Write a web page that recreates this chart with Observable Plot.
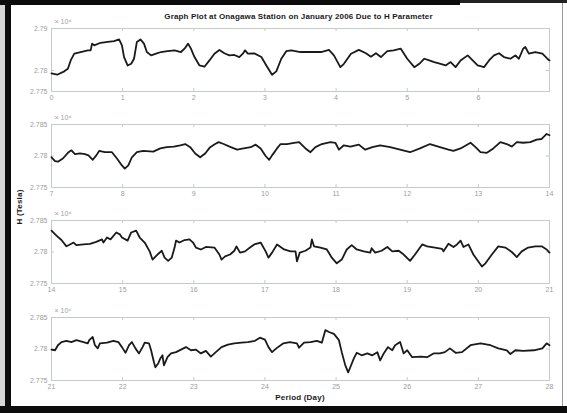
<!DOCTYPE html>
<html>
<head>
<meta charset="utf-8">
<script src="https://cdn.jsdelivr.net/npm/d3@7"></script>
<script src="https://cdn.jsdelivr.net/npm/@observablehq/plot@0.6"></script>
<style>
  html, body { margin: 0; padding: 0; background: #fff; }
  #page { position: relative; width: 567px; height: 413px; background: #fff; overflow: hidden;
          font-family: "Liberation Sans", Arial, sans-serif; }
  .edge { position: absolute; }
  .panel { position: absolute; left: 0; }
  #title { position: absolute; left: 0; width: 597px; top: 12px; text-align: center;
           font-size: 8px; font-weight: bold; color: #1a1a1a; letter-spacing: 0.15px; }
  #xlabel { position: absolute; left: 0; width: 600px; top: 393px; text-align: center;
            font-size: 8px; font-weight: bold; color: #1a1a1a; letter-spacing: 0.2px; }
  #ylabel { position: absolute; left: 19px; top: 207px; transform: translate(-50%, -50%) rotate(-90deg);
            font-size: 8px; font-weight: bold; color: #1a1a1a; white-space: nowrap; letter-spacing: 0.2px; }
</style>
</head>
<body>
<div id="page">
  <div class="edge" style="left:0;top:0;width:5px;height:413px;background:#d6d6d6"></div>
  <div class="edge" style="left:5px;top:0;width:6px;height:413px;background:#0c0c0c"></div>
  <div class="edge" style="left:0;top:0;width:460px;height:5px;background:#0c0c0c"></div>
  <div class="edge" style="left:460px;top:0;width:107px;height:3px;background:#222"></div>
  <div class="edge" style="left:0;top:406px;width:567px;height:7px;background:#0c0c0c"></div>
  <div class="edge" style="left:562px;top:3px;width:1px;height:403px;background:#9a9a9a"></div>
  <div id="title">Graph Plot at Onagawa Station on January 2006 Due to H Parameter</div>
  <div id="ylabel">H (Tesla)</div>
  <div id="xlabel">Period (Day)</div>
</div>
<script>
// H component readings, [day, H ×10^4], one array per week of January 2006
const week1 = [
  [0, 2.7793], [0.08, 2.7790], [0.18, 2.7798], [0.23, 2.7804], [0.27, 2.7824], [0.32, 2.7840],
  [0.41, 2.7844], [0.51, 2.7848], [0.55, 2.7848], [0.57, 2.7864], [0.6, 2.7860], [0.69, 2.7866],
  [0.79, 2.7868], [0.88, 2.7870], [0.95, 2.7874], [0.99, 2.7860], [1.02, 2.7832], [1.07, 2.7812],
  [1.12, 2.7816], [1.16, 2.7828], [1.2, 2.7868], [1.25, 2.7874], [1.3, 2.7864], [1.34, 2.7844],
  [1.4, 2.7836], [1.47, 2.7840], [1.54, 2.7844], [1.63, 2.7846], [1.73, 2.7848], [1.82, 2.7844],
  [1.87, 2.7852], [1.92, 2.7864], [1.96, 2.7852], [2.01, 2.7832], [2.08, 2.7812], [2.15, 2.7809],
  [2.22, 2.7824], [2.29, 2.7840], [2.36, 2.7849], [2.43, 2.7841], [2.5, 2.7836], [2.57, 2.7837],
  [2.64, 2.7832], [2.69, 2.7840], [2.72, 2.7848], [2.76, 2.7840], [2.85, 2.7841], [2.95, 2.7832],
  [3.02, 2.7812], [3.1, 2.7790], [3.16, 2.7798], [3.23, 2.7828], [3.3, 2.7846], [3.37, 2.7848],
  [3.5, 2.7844], [3.64, 2.7844], [3.79, 2.7844], [3.9, 2.7849], [3.97, 2.7836], [4.06, 2.7808],
  [4.11, 2.7816], [4.21, 2.7840], [4.32, 2.7849], [4.42, 2.7841], [4.49, 2.7833], [4.56, 2.7841],
  [4.63, 2.7832], [4.72, 2.7846], [4.81, 2.7848], [4.91, 2.7852], [5.0, 2.7828], [5.1, 2.7808],
  [5.17, 2.7816], [5.24, 2.7828], [5.31, 2.7824], [5.38, 2.7820], [5.47, 2.7816], [5.54, 2.7812],
  [5.61, 2.7820], [5.68, 2.7808], [5.75, 2.7824], [5.85, 2.7836], [5.92, 2.7824], [5.99, 2.7812],
  [6.08, 2.7808], [6.15, 2.7824], [6.22, 2.7836], [6.29, 2.7841], [6.36, 2.7832], [6.45, 2.7828],
  [6.52, 2.7836], [6.57, 2.7828], [6.63, 2.7852], [6.66, 2.7856], [6.71, 2.7840], [6.8, 2.7844],
  [6.9, 2.7840], [6.97, 2.7828], [7.0, 2.7824]
];
const week2 = [
  [7.0, 2.7798], [7.05, 2.7792], [7.09, 2.7791], [7.16, 2.7796], [7.24, 2.7806], [7.28, 2.7809],
  [7.33, 2.7803], [7.4, 2.7804], [7.47, 2.7803], [7.52, 2.7801], [7.58, 2.7794], [7.63, 2.7801],
  [7.67, 2.7808], [7.75, 2.7806], [7.85, 2.7806], [7.92, 2.7796], [7.99, 2.7785], [8.03, 2.7780],
  [8.08, 2.7785], [8.13, 2.7798], [8.2, 2.7806], [8.29, 2.7808], [8.43, 2.7807], [8.53, 2.7812],
  [8.62, 2.7814], [8.72, 2.7815], [8.81, 2.7817], [8.88, 2.7819], [8.95, 2.7814], [9.02, 2.7804],
  [9.09, 2.7798], [9.16, 2.7804], [9.23, 2.7814], [9.3, 2.7819], [9.35, 2.7822], [9.42, 2.7819],
  [9.52, 2.7814], [9.61, 2.7810], [9.7, 2.7812], [9.8, 2.7814], [9.87, 2.7818], [9.94, 2.7812],
  [10.01, 2.7800], [10.06, 2.7794], [10.1, 2.7801], [10.17, 2.7812], [10.22, 2.7819], [10.31, 2.7819],
  [10.41, 2.7821], [10.48, 2.7822], [10.57, 2.7812], [10.64, 2.7806], [10.71, 2.7814], [10.8, 2.7819],
  [10.92, 2.7822], [10.99, 2.7821], [11.04, 2.7810], [11.11, 2.7817], [11.2, 2.7815], [11.32, 2.7818],
  [11.41, 2.7810], [11.51, 2.7814], [11.62, 2.7817], [11.76, 2.7814], [11.9, 2.7810], [12.04, 2.7806],
  [12.18, 2.7812], [12.32, 2.7819], [12.46, 2.7814], [12.58, 2.7810], [12.65, 2.7808], [12.75, 2.7812],
  [12.89, 2.7821], [12.96, 2.7814], [13.03, 2.7806], [13.12, 2.7805], [13.21, 2.7812], [13.31, 2.7822],
  [13.4, 2.7819], [13.47, 2.7815], [13.54, 2.7822], [13.63, 2.7821], [13.73, 2.7822], [13.82, 2.7826],
  [13.89, 2.7827], [13.96, 2.7835], [14.0, 2.7833]
];
const week3 = [
  [14.0, 2.7834], [14.07, 2.7826], [14.14, 2.7819], [14.21, 2.7809], [14.26, 2.7812], [14.31, 2.7815],
  [14.35, 2.7811], [14.45, 2.7812], [14.54, 2.7813], [14.63, 2.7816], [14.71, 2.7820], [14.73, 2.7815],
  [14.78, 2.7823], [14.83, 2.7820], [14.91, 2.7831], [14.96, 2.7828], [14.99, 2.7823], [15.07, 2.7818],
  [15.12, 2.7831], [15.19, 2.7834], [15.24, 2.7823], [15.31, 2.7815], [15.38, 2.7801], [15.42, 2.7788],
  [15.49, 2.7796], [15.55, 2.7802], [15.59, 2.7791], [15.64, 2.7786], [15.69, 2.7791], [15.73, 2.7807],
  [15.75, 2.7818], [15.8, 2.7815], [15.87, 2.7819], [15.94, 2.7820], [15.99, 2.7815], [16.03, 2.7807],
  [16.1, 2.7804], [16.17, 2.7808], [16.29, 2.7807], [16.36, 2.7796], [16.39, 2.7788], [16.44, 2.7793],
  [16.51, 2.7796], [16.57, 2.7802], [16.6, 2.7809], [16.65, 2.7799], [16.72, 2.7801], [16.79, 2.7807],
  [16.85, 2.7812], [16.94, 2.7815], [17.01, 2.7801], [17.05, 2.7791], [17.1, 2.7799], [17.17, 2.7812],
  [17.27, 2.7804], [17.36, 2.7801], [17.43, 2.7801], [17.45, 2.7785], [17.49, 2.7799], [17.57, 2.7802],
  [17.64, 2.7807], [17.66, 2.7820], [17.69, 2.7809], [17.78, 2.7807], [17.87, 2.7804], [17.94, 2.7791],
  [18.01, 2.7782], [18.08, 2.7788], [18.15, 2.7804], [18.22, 2.7811], [18.29, 2.7804], [18.39, 2.7801],
  [18.48, 2.7799], [18.5, 2.7806], [18.55, 2.7799], [18.64, 2.7802], [18.72, 2.7808], [18.79, 2.7801],
  [18.88, 2.7802], [18.95, 2.7796], [19.04, 2.7786], [19.11, 2.7796], [19.21, 2.7812], [19.28, 2.7809],
  [19.39, 2.7807], [19.49, 2.7805], [19.51, 2.7801], [19.58, 2.7813], [19.65, 2.7808], [19.7, 2.7812],
  [19.75, 2.7818], [19.79, 2.7808], [19.86, 2.7812], [19.93, 2.7796], [20.0, 2.7785], [20.05, 2.7777],
  [20.1, 2.7782], [20.19, 2.7796], [20.28, 2.7809], [20.38, 2.7807], [20.47, 2.7800], [20.54, 2.7792],
  [20.61, 2.7801], [20.7, 2.7807], [20.8, 2.7809], [20.89, 2.7809], [20.96, 2.7804], [21.0, 2.7799]
];
const week4 = [
  [21.0, 2.7799], [21.05, 2.7798], [21.09, 2.7806], [21.14, 2.7811], [21.21, 2.7813], [21.28, 2.7811],
  [21.35, 2.7814], [21.45, 2.7811], [21.51, 2.7809], [21.53, 2.7814], [21.58, 2.7819], [21.61, 2.7806],
  [21.65, 2.7801], [21.68, 2.7809], [21.78, 2.7810], [21.87, 2.7813], [21.94, 2.7811], [21.99, 2.7803],
  [22.04, 2.7794], [22.09, 2.7806], [22.13, 2.7811], [22.18, 2.7801], [22.23, 2.7793], [22.28, 2.7803],
  [22.31, 2.7810], [22.37, 2.7809], [22.4, 2.7798], [22.44, 2.7779], [22.46, 2.7771], [22.5, 2.7777],
  [22.53, 2.7785], [22.56, 2.7790], [22.58, 2.7774], [22.63, 2.7787], [22.68, 2.7793], [22.75, 2.7795],
  [22.82, 2.7799], [22.89, 2.7803], [22.96, 2.7798], [23.03, 2.7799], [23.1, 2.7793], [23.17, 2.7797],
  [23.24, 2.7788], [23.31, 2.7795], [23.39, 2.7803], [23.48, 2.7807], [23.57, 2.7809], [23.67, 2.7810],
  [23.76, 2.7811], [23.86, 2.7813], [23.93, 2.7818], [24.0, 2.7815], [24.05, 2.7803], [24.1, 2.7795],
  [24.16, 2.7801], [24.26, 2.7809], [24.35, 2.7811], [24.45, 2.7809], [24.48, 2.7802], [24.55, 2.7810],
  [24.64, 2.7811], [24.73, 2.7813], [24.8, 2.7810], [24.85, 2.7830], [24.9, 2.7827], [24.97, 2.7824],
  [25.04, 2.7814], [25.08, 2.7795], [25.13, 2.7774], [25.17, 2.7763], [25.2, 2.7771], [25.25, 2.7785],
  [25.29, 2.7794], [25.36, 2.7790], [25.44, 2.7793], [25.51, 2.7790], [25.58, 2.7795], [25.62, 2.7782],
  [25.67, 2.7793], [25.73, 2.7803], [25.79, 2.7798], [25.83, 2.7806], [25.9, 2.7811], [25.95, 2.7793],
  [26.0, 2.7798], [26.07, 2.7787], [26.19, 2.7788], [26.28, 2.7787], [26.37, 2.7793], [26.46, 2.7793],
  [26.53, 2.7795], [26.6, 2.7801], [26.68, 2.7794], [26.77, 2.7795], [26.89, 2.7806], [27.03, 2.7809],
  [27.17, 2.7806], [27.28, 2.7801], [27.4, 2.7798], [27.45, 2.7792], [27.52, 2.7798], [27.63, 2.7797],
  [27.78, 2.7798], [27.9, 2.7801], [27.96, 2.7809], [28.0, 2.7806]
];

// y ticks per panel (×10^4)
const yTicksWeek1 = [2.775, 2.78, 2.79];
const yTicksOther = [2.775, 2.78, 2.785];
const weekStarts = [0, 7, 14, 21];

const panels = [
  {data: week1, yTicks: yTicksWeek1, top: 28},
  {data: week2, yTicks: yTicksOther, top: 124},
  {data: week3, yTicks: yTicksOther, top: 220},
  {data: week4, yTicks: yTicksOther, top: 317}
];

const W = 567, mL = 51, mR = 18, mT = 14, mB = 18, innerH = 63;
const axisGray = "#c3ccc7";
const page = document.getElementById("page");

panels.forEach((p, i) => {
  const s = weekStarts[i];
  const xTicks = d3.range(s, s + 8);
  const yDomain = [p.yTicks[0], p.yTicks[p.yTicks.length - 1]];
  const innerW = W - mL - mR;
  const chart = Plot.plot({
    width: W,
    height: innerH + mT + mB,
    marginLeft: mL, marginRight: mR, marginTop: mT, marginBottom: mB,
    style: {fontSize: "7px", fontFamily: "Liberation Sans, Arial, sans-serif", color: "#9c9c9c", background: "transparent", overflow: "visible"},
    x: {domain: [s, s + 7], ticks: xTicks, tickSize: 0, tickPadding: 4, label: null,
        tickFormat: d => (i === 0 && d === 7) ? "" : String(d)},
    y: {domain: yDomain, ticks: p.yTicks, tickSize: 0, tickPadding: 4, label: null,
        tickFormat: d => String(d)},
    marks: [
      Plot.frame({stroke: axisGray, strokeWidth: 1}),
      // inward tick marks on all four sides
      Plot.ruleX(xTicks, {stroke: axisGray, insetTop: innerH - 3}),
      Plot.ruleX(xTicks, {stroke: axisGray, insetBottom: innerH - 3}),
      Plot.ruleY(p.yTicks, {stroke: axisGray, insetRight: innerW - 3}),
      Plot.ruleY(p.yTicks, {stroke: axisGray, insetLeft: innerW - 3}),
      Plot.line(p.data, {x: d => d[0], y: d => d[1], stroke: "#1a1a1a", strokeWidth: 1.8, strokeLinejoin: "round"}),
      Plot.text(["× 10⁴"], {frameAnchor: "top-left", textAnchor: "start", dx: 3, dy: -9, fill: "#a0a0a0", fontSize: 7})
    ]
  });
  chart.classList.add("panel");
  chart.style.top = (p.top - mT) + "px";
  page.appendChild(chart);
});
</script>
</body>
</html>
